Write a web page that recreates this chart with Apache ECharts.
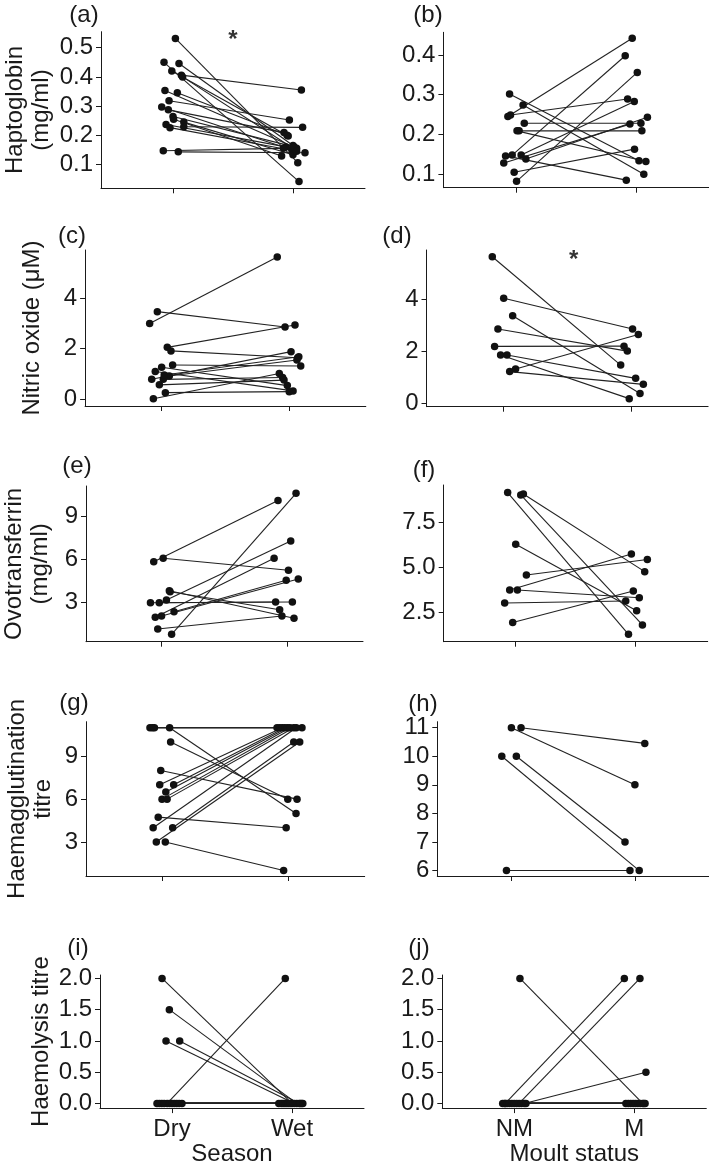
<!DOCTYPE html>
<html>
<head>
<meta charset="utf-8">
<script src="https://cdn.jsdelivr.net/npm/echarts@6/dist/echarts.min.js"></script>
<style>
  html, body { margin: 0; padding: 0; background: #fff; }
  #chart { width: 709px; height: 1167px; }
</style>
</head>
<body>
<div id="chart"></div>
<script>
// x labels of the two groups (group 0 at x = 0, group 1 at x = 1)
const seasonLabels = ["Dry", "Wet"];
const moultLabels = ["NM", "M"];

// y tick values per panel
const haptoSeasonTicks = [0.1, 0.2, 0.3, 0.4, 0.5];
const haptoMoultTicks = [0.1, 0.2, 0.3, 0.4];
const nitricTicks = [0, 2, 4];
const ovoSeasonTicks = [3, 6, 9];
const ovoMoultTicks = [2.5, 5, 7.5];
const haemagSeasonTicks = [3, 6, 9];
const haemagMoultTicks = [6, 7, 8, 9, 10, 11];
const haemolTicks = [0, 0.5, 1, 1.5, 2];

// paired birds: [x before (jittered), value before, x after (jittered), value after]
const haptoSeason = [
  [0.02, 0.532, 1.04, 0.106], [-0.075, 0.45, 1.05, 0.041], [0.05, 0.446, 1.0, 0.165],
  [-0.01, 0.42, 0.96, 0.197], [0.07, 0.406, 1.07, 0.355], [0.08, 0.4, 1.02, 0.15],
  [-0.067, 0.353, 1.03, 0.155], [0.036, 0.346, 0.95, 0.2], [-0.033, 0.318, 0.97, 0.252],
  [-0.094, 0.297, 0.99, 0.15], [-0.039, 0.287, 0.925, 0.209], [0.0, 0.264, 1.01, 0.16],
  [0.005, 0.255, 0.905, 0.129], [0.09, 0.245, 1.0, 0.133], [0.09, 0.229, 1.08, 0.227],
  [-0.058, 0.237, 0.94, 0.16], [-0.025, 0.226, 1.03, 0.145], [-0.081, 0.147, 0.92, 0.155],
  [0.044, 0.143, 1.1, 0.14]
];
const haptoMoult = [
  [-0.052, 0.302, 1.02, 0.134], [-0.066, 0.245, 0.964, 0.442], [-0.044, 0.249, 0.926, 0.289],
  [0.06, 0.274, 1.06, 0.1], [0.07, 0.228, 1.036, 0.228], [0.01, 0.209, 1.077, 0.132],
  [0.027, 0.209, 1.044, 0.209], [-0.085, 0.146, 0.915, 0.085], [-0.03, 0.148, 0.906, 0.398],
  [0.044, 0.148, 0.981, 0.283], [0.083, 0.138, 1.09, 0.243], [-0.1, 0.128, 0.945, 0.226],
  [-0.014, 0.105, 0.983, 0.163], [0.006, 0.082, 1.006, 0.356]
];
const nitricSeason = [
  [-0.094, 3.0, 0.906, 5.64], [-0.034, 3.47, 0.967, 2.86], [0.044, 2.05, 1.045, 2.94],
  [0.073, 1.91, 1.066, 1.64], [0.086, 1.35, 1.09, 1.31], [0.0, 1.26, 0.985, 0.53],
  [-0.05, 1.09, 1.03, 0.32], [-0.078, 0.78, 1.014, 1.88], [0.013, 0.78, 0.948, 0.85],
  [0.06, 0.91, 1.06, 1.55], [0.02, 0.95, 1.075, 1.68], [-0.018, 0.56, 0.959, 0.75],
  [0.029, 0.25, 1.0, 0.29], [-0.065, 0.01, 0.922, 1.01]
];
const nitricMoult = [
  [-0.086, 5.64, 0.917, 1.47], [0.003, 4.04, 1.01, 2.86], [0.073, 3.37, 1.068, 0.38],
  [-0.042, 2.86, 0.969, 2.01], [-0.068, 2.19, 0.943, 2.2], [-0.021, 1.86, 0.984, 0.18],
  [0.029, 1.86, 1.034, 0.96], [0.05, 1.22, 1.094, 0.73], [0.096, 1.32, 1.055, 2.65]
];
const ovoSeason = [
  [-0.062, 5.82, 0.925, 10.1], [0.013, 6.06, 1.008, 5.22], [0.062, 3.79, 1.052, 1.86],
  [0.068, 3.72, 0.938, 2.46], [0.039, 3.14, 1.026, 7.27], [-0.088, 2.95, 0.906, 3.0],
  [-0.018, 2.95, 1.039, 3.0], [0.099, 2.32, 0.99, 4.52], [0.0, 2.02, 1.086, 4.61],
  [-0.05, 1.93, 0.894, 6.06], [-0.03, 1.11, 0.956, 2.02], [0.08, 0.74, 1.068, 10.61]
];
const ovoMoult = [
  [-0.067, 9.15, 0.94, 1.28], [0.042, 9.02, 1.056, 1.8], [0.064, 9.07, 1.075, 4.76],
  [0.0, 6.28, 1.008, 2.59], [0.089, 4.57, 1.097, 5.43], [-0.05, 3.74, 0.964, 5.74],
  [0.014, 3.74, 1.03, 3.31], [-0.092, 3.02, 0.917, 3.13], [-0.025, 1.94, 0.98, 3.69]
];
const haemagSeason = [
  [-0.095, 11, 0.908, 11], [-0.075, 11, 0.93, 11], [-0.06, 11, 1.105, 11],
  [0.06, 11, 1.058, 5], [0.068, 10, 0.993, 6], [-0.01, 8, 1.066, 6],
  [-0.018, 7, 0.95, 11], [0.092, 7, 0.97, 11], [0.03, 6.5, 0.99, 11],
  [0.0, 6, 1.01, 11], [0.04, 6, 1.04, 11], [-0.03, 4.74, 0.98, 4],
  [-0.07, 4, 1.06, 11], [0.084, 4, 1.04, 10], [-0.045, 3, 1.087, 10],
  [0.026, 3, 0.96, 1]
];
const haemagMoult = [
  [0.0, 11, 1.0, 9], [0.078, 11, 1.08, 10.45], [-0.078, 10, 1.035, 6],
  [0.04, 10, 0.92, 7], [-0.04, 6, 0.96, 6]
];
const haemolSeason = [
  [-0.083, 2, 1.0, 0], [-0.022, 1.5, 1.04, 0], [-0.05, 1, 1.02, 0], [0.064, 1, 1.06, 0],
  [-0.04, 0, 0.944, 2], [-0.125, 0, 0.89, 0], [-0.105, 0, 0.91, 0], [-0.085, 0, 0.925, 0],
  [-0.065, 0, 0.94, 0], [-0.02, 0, 0.955, 0], [0.0, 0, 0.97, 0], [0.02, 0, 0.985, 0],
  [0.04, 0, 1.08, 0], [0.06, 0, 1.07, 0], [0.083, 0, 1.09, 0]
];
const haemolMoult = [
  [0.047, 2, 1.07, 0], [-0.075, 0, 0.917, 2], [0.04, 0, 1.047, 2], [0.083, 0, 1.097, 0.5],
  [-0.097, 0, 0.93, 0], [-0.08, 0, 0.95, 0], [-0.06, 0, 0.97, 0], [-0.04, 0, 0.99, 0],
  [-0.02, 0, 1.01, 0], [0.0, 0, 1.03, 0], [0.02, 0, 1.05, 0], [0.06, 0, 1.09, 0], [0.097, 0, 1.08, 0]
];

// significance marks (data coords)
const starA = [0.5, 0.525];
const starD = [0.55, 5.5];
const starH = [0.5, 11.3];

const FONT = "'Liberation Sans', Arial, sans-serif";
const INK = "#1a1a1a";
const FS = 24;

// layout per panel: box = [left, top, width, height] in px
const panels = [
  { tag: "(a)", tagAt: [84, 15], data: haptoSeason, box: [101, 31.7, 264, 156.6], y: [0.018, 0.555], ticks: haptoSeasonTicks, dec: 1, cats: seasonLabels, title: "Haptoglobin\n(mg/ml)", gap: 47, star: starA },
  { tag: "(b)", tagAt: [428, 15], data: haptoMoult, box: [443.4, 32.3, 266.2, 155.4], y: [0.066, 0.457], ticks: haptoMoultTicks, dec: 1, cats: moultLabels },
  { tag: "(c)", tagAt: [72, 236], data: nitricSeason, box: [85.1, 250, 280.7, 156], y: [-0.28, 5.92], ticks: nitricTicks, dec: 0, cats: seasonLabels, title: "Nitric oxide (\u03bcM)", gap: 40 },
  { tag: "(d)", tagAt: [397, 236], data: nitricMoult, box: [426.5, 250, 281.6, 156.7], y: [-0.13, 5.9], ticks: nitricTicks, dec: 0, cats: moultLabels, star: starD },
  { tag: "(e)", tagAt: [77, 466], data: ovoSeason, box: [86, 486, 277, 155.7], y: [0.22, 11.12], ticks: ovoSeasonTicks, dec: 0, cats: seasonLabels, title: "Ovotransferrin\n(mg/ml)", gap: 33 },
  { tag: "(f)", tagAt: [424, 470], data: ovoMoult, box: [443.7, 485, 264, 156.7], y: [0.87, 9.57], ticks: ovoMoultTicks, dec: 1, cats: moultLabels },
  { tag: "(g)", tagAt: [74, 703], data: haemagSeason, box: [86, 721.7, 278.7, 154.3], y: [0.62, 11.42], ticks: haemagSeasonTicks, dec: 0, cats: seasonLabels, title: "Haemagglutination\ntitre", gap: 30 },
  { tag: "(h)", tagAt: [423, 704], data: haemagMoult, box: [437.3, 721.7, 272.8, 154.3], y: [5.81, 11.21], ticks: haemagMoultTicks, dec: 0, cats: moultLabels, star: starH },
  { tag: "(i)", tagAt: [78, 948], data: haemolSeason, box: [100, 975, 264, 133.7], y: [-0.075, 2.055], ticks: haemolTicks, dec: 1, cats: seasonLabels, title: "Haemolysis titre", gap: 44, xTitle: "Season" },
  { tag: "(j)", tagAt: [419, 948], data: haemolMoult, box: [442.3, 975, 264, 133.7], y: [-0.075, 2.055], ticks: haemolTicks, dec: 1, cats: moultLabels, xTitle: "Moult status" }
];

function loadChart() {
  var myChart = echarts.init(document.getElementById("chart"));
  var grids = [], xAxes = [], yAxes = [], series = [], graphics = [];

  panels.forEach(function (p, i) {
    var bottomRow = !!p.xTitle;
    grids.push({ left: p.box[0], top: p.box[1], width: p.box[2], height: p.box[3] });

    xAxes.push({
      type: "value",
      gridIndex: i,
      min: -0.6,
      max: 1.6,
      axisLine: { show: true, onZero: false, lineStyle: { color: INK, width: 1 } },
      axisTick: { show: true, customValues: [0, 1], length: 5, lineStyle: { color: INK } },
      axisLabel: {
        show: bottomRow,
        customValues: [0, 1],
        formatter: function (v) { return p.cats[Math.round(v)]; },
        fontSize: FS, fontFamily: FONT, color: INK, margin: 9
      },
      splitLine: { show: false },
      name: p.xTitle || "",
      nameLocation: "middle",
      nameGap: 33,
      nameTextStyle: { fontSize: FS, fontFamily: FONT, color: INK }
    });

    yAxes.push({
      type: "value",
      gridIndex: i,
      min: p.y[0],
      max: p.y[1],
      axisLine: { show: true, onZero: false, lineStyle: { color: INK, width: 1 } },
      axisTick: { show: true, customValues: p.ticks, length: 5, lineStyle: { color: INK } },
      axisLabel: {
        customValues: p.ticks,
        formatter: function (v) { return v.toFixed(p.dec); },
        fontSize: FS, fontFamily: FONT, color: INK, margin: 8
      },
      splitLine: { show: false },
      name: p.title || "",
      nameLocation: "middle",
      nameRotate: 90,
      nameGap: p.gap || 0,
      nameTextStyle: { fontSize: FS, fontFamily: FONT, color: INK, lineHeight: 26 }
    });

    // connecting lines for each pair
    series.push({
      type: "custom",
      xAxisIndex: i,
      yAxisIndex: i,
      silent: true,
      encode: { x: [0, 2], y: [1, 3] },
      data: p.data,
      renderItem: function (params, api) {
        var a = api.coord([api.value(0), api.value(1)]);
        var b = api.coord([api.value(2), api.value(3)]);
        return {
          type: "line",
          shape: { x1: a[0], y1: a[1], x2: b[0], y2: b[1] },
          style: { stroke: "#222", lineWidth: 1.1 }
        };
      }
    });

    // the points themselves
    var pts = [];
    p.data.forEach(function (r) {
      pts.push([r[0], r[1]]);
      pts.push([r[2], r[3]]);
    });
    series.push({
      type: "scatter",
      xAxisIndex: i,
      yAxisIndex: i,
      silent: true,
      symbol: "circle",
      symbolSize: 7.5,
      itemStyle: { color: "#111", opacity: 1 },
      data: pts
    });

    if (p.star) {
      series.push({
        type: "scatter",
        xAxisIndex: i,
        yAxisIndex: i,
        silent: true,
        symbolSize: 0,
        data: [p.star],
        label: { show: true, position: "inside", formatter: "*", fontSize: 24, fontWeight: "bold", fontFamily: FONT, color: "#000" }
      });
    }

    graphics.push({
      type: "text",
      x: p.tagAt[0],
      y: p.tagAt[1],
      style: { text: p.tag, fontSize: FS, fontFamily: FONT, fill: INK, align: "center", verticalAlign: "middle" }
    });
  });

  var option = {
    animation: false,
    backgroundColor: "#fff",
    grid: grids,
    xAxis: xAxes,
    yAxis: yAxes,
    series: series,
    graphic: graphics
  };

  option && myChart.setOption(option);
}

loadChart();
</script>
</body>
</html>
